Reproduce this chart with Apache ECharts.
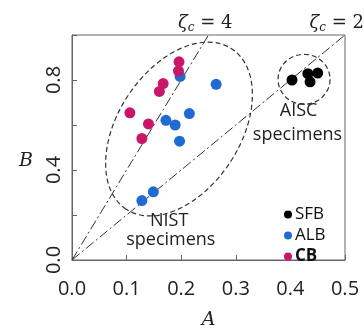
<!DOCTYPE html>
<html><head><meta charset="utf-8">
<script src="https://cdn.jsdelivr.net/npm/echarts@6/dist/echarts.min.js"></script>
<style>html,body{margin:0;padding:0;background:#fff}#c{width:364px;height:335px}</style>
</head><body><div id="c"></div>
<script>
// data (A, B) per group
const sfbA=[0.403,0.432,0.450,0.436];
const sfbB=[0.800,0.828,0.831,0.792];
const albA=[0.198,0.264,0.215,0.172,0.189,0.197,0.149,0.128];
const albB=[0.816,0.781,0.651,0.621,0.600,0.528,0.303,0.264];
const cbA=[0.196,0.195,0.167,0.160,0.106,0.140,0.128];
const cbB=[0.881,0.840,0.784,0.749,0.654,0.605,0.540];
const seriesNames=['SFB','ALB','CB'];
const xTickLabels=['0.0','0.1','0.2','0.3','0.4','0.5'];
const yTickLabels=['0.0','0.4','0.8'];
const zetaValues=[4,2];
// annotation texts (data coords)
const noteTexts=['AISC','specimens','NIST','specimens'];
const noteA=[0.415,0.413,0.178,0.181];
const noteB=[0.661,0.556,0.172,0.088];
const zetaLabelA=[0.244,0.485];
const zetaLabelB=[1.054,1.054];
// y-axis title position (data B value)
const yTitleB=0.44;
// group ellipses: centre in data coords
const ellipseA=[0.196,0.425];
const ellipseB=[0.582,0.803];

const colors=['#000000','#1f6bd1','#c8176b'];
const pts=(a,b)=>a.map((v,i)=>[v,b[i]]);
const chart=echarts.init(document.getElementById('c'),null,{renderer:'canvas'});
const font='"Open Sans", "Noto Sans", sans-serif';
const serif='"DejaVu Serif", serif';
const zetaSeries=zetaValues.map(z=>({
  type:'line',data:[[0,0],[1/z,1]],symbol:'none',silent:true,z:1,
  lineStyle:{color:'#333',width:1,type:[10,3,2,3]}
}));
const option={
  animation:false,
  grid:{left:72,right:19,top:35,bottom:61,show:true,borderColor:'#666',borderWidth:1},
  xAxis:{type:'value',min:0,max:0.5,interval:0.1,
    name:'A',nameLocation:'middle',nameGap:51,
    nameTextStyle:{fontFamily:serif,fontStyle:'italic',fontSize:19,color:'#222'},
    axisLine:{lineStyle:{color:'#666'}},
    axisTick:{inside:true,length:5,lineStyle:{color:'#666'}},
    splitLine:{show:false},
    axisLabel:{margin:19,fontSize:20,fontFamily:font,color:'#222',
      formatter:(v)=>xTickLabels[Math.round(v*10)]}
  },
  yAxis:{type:'value',min:0,max:1,interval:0.2,
    axisLine:{show:true,lineStyle:{color:'#666'}},
    axisTick:{inside:true,length:5,lineStyle:{color:'#666'}},
    splitLine:{show:false},
    axisLabel:{interval:1,rotate:90,margin:8,fontSize:20,fontFamily:font,color:'#222',
      formatter:(v)=>{const i=Math.round(v*5);return i%2===0?yTickLabels[i/2]:'';}}
  },
  legend:{data:seriesNames,orient:'vertical',left:279,top:201,itemWidth:8,itemHeight:8,itemGap:4,
    icon:'circle',textStyle:{fontSize:17,fontFamily:font,color:'#111',padding:[0,0,0,-2],
      rich:{b:{fontWeight:'bold',fontSize:17,fontFamily:font,color:'#111'}}},
    formatter:(n)=>n==='CB'?'{b|CB}':n},
  series:[...zetaSeries,
    {name:'SFB',type:'scatter',data:pts(sfbA,sfbB),symbolSize:11,itemStyle:{color:colors[0],opacity:1},z:3},
    {name:'ALB',type:'scatter',data:pts(albA,albB),symbolSize:11,itemStyle:{color:colors[1],opacity:1},z:3},
    {name:'CB',type:'scatter',data:pts(cbA,cbB),symbolSize:11,itemStyle:{color:colors[2],opacity:1},z:3}
  ]
};
chart.setOption(option);
const px=(a,b)=>chart.convertToPixel({gridIndex:0},[a,b]);
const g=[];
noteTexts.forEach((t,i)=>{const p=px(noteA[i],noteB[i]);
  g.push({type:'text',x:p[0],y:p[1],style:{text:t,fontSize:18,fontFamily:font,fill:'#222',align:'center',verticalAlign:'middle'}});});
zetaValues.forEach((z,i)=>{const p=px(zetaLabelA[i],zetaLabelB[i]);
  g.push({type:'text',x:p[0],y:p[1],style:{text:'{z|ζ}{s|c} = '+z,align:'center',verticalAlign:'middle',
    rich:{z:{fontFamily:serif,fontStyle:'italic',fontSize:18,fill:'#222'},
          s:{fontFamily:serif,fontStyle:'italic',fontSize:12,fill:'#222',padding:[10,0,0,0]}},
    fontFamily:serif,fontSize:18,fill:'#222'}});});
{const p=px(0,yTitleB);
  g.push({type:'text',x:p[0]-46,y:p[1],style:{text:'B',fontFamily:serif,fontStyle:'italic',fontSize:19,fill:'#222',align:'center',verticalAlign:'middle'}});}
const ell=[{rx:96,ry:61,rot:56.6},{rx:26,ry:25,rot:0}];
ellipseA.forEach((a,i)=>{const p=px(a,ellipseB[i]);
  g.push({type:'ellipse',x:p[0],y:p[1],rotation:ell[i].rot*Math.PI/180,
    shape:{cx:0,cy:0,rx:ell[i].rx,ry:ell[i].ry},
    style:{fill:'none',stroke:'#333',lineWidth:1.2,lineDash:[5,3]},z:2});});
chart.setOption({graphic:g});
</script></body></html>
